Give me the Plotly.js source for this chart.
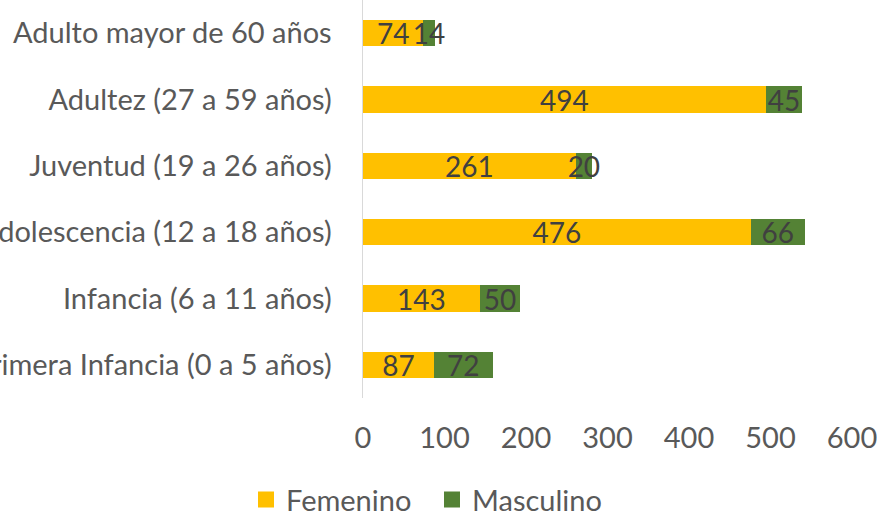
<!DOCTYPE html>
<html>
<head>
<meta charset="utf-8">
<script src="https://cdn.plot.ly/plotly-3.0.1.min.js"></script>
<style>html,body{margin:0;padding:0;background:#fff;}#chart{width:877px;height:511px;}</style>
</head>
<body>
<div id="chart"></div>
<script>
const categories = [
  "Primera Infancia (0 a 5 años)",
  "Infancia (6 a 11 años)",
  "Adolescencia (12 a 18 años)",
  "Juventud (19 a 26 años)",
  "Adultez (27 a 59 años)",
  "Adulto mayor de 60 años"
];
const femenino = [87, 143, 476, 261, 494, 74];
const masculino = [72, 50, 66, 20, 45, 14];
const xTicks = [0, 100, 200, 300, 400, 500, 600];
const seriesNames = ["Femenino", "Masculino"];
const seriesColors = ["#FFC000", "#548235"];

const FONT = "Lato, 'Open Sans', sans-serif";
const labelFont = {family: FONT, size: 28, color: "#404040"};
const tickFont = {family: FONT, size: 29, color: "#595959"};

const seriesValues = [femenino, masculino];
const traces = seriesValues.map((vals, i) => ({
  type: "bar", orientation: "h", name: seriesNames[i],
  y: categories, x: vals,
  marker: {color: seriesColors[i]},
  text: vals.map(String), textposition: "inside", insidetextanchor: "middle",
  textangle: 0, constraintext: "none", textfont: labelFont, cliponaxis: false,
  hoverinfo: "none", showlegend: false
}));
// legend entries with larger square swatches
seriesNames.forEach((n, i) => traces.push({
  type: "scatter", mode: "markers", name: n, x: [null], y: [null],
  marker: {symbol: "square", size: 17, color: seriesColors[i]},
  showlegend: true, hoverinfo: "none"
}));

const layout = {
  width: 877, height: 511,
  paper_bgcolor: "#ffffff", plot_bgcolor: "#ffffff",
  barmode: "stack", bargap: 0.6,
  margin: {l: 363, r: 25, t: 0, b: 113, pad: 0},
  font: {family: FONT, size: 29, color: "#595959"},
  showlegend: true,
  legend: {
    orientation: "h", xref: "container", yref: "container",
    x: 246 / 877, xanchor: "left", y: 0.022, yanchor: "middle",
    entrywidth: 141, entrywidthmode: "pixels",
    font: {family: FONT, size: 29, color: "#595959"},
    traceorder: "normal", itemsizing: "trace"
  },
  xaxis: {
    range: [0, 600], tickmode: "array", tickvals: xTicks, ticktext: xTicks.map(String),
    showgrid: false, zeroline: false, showline: false, ticks: "",
    ticklabelstandoff: 20, ticklabeloverflow: "allow",
    tickfont: tickFont, fixedrange: true
  },
  yaxis: {
    type: "category", categoryorder: "array", categoryarray: categories,
    range: [-0.5, 5.5], automargin: false,
    showgrid: false, zeroline: false, showline: true, linecolor: "#D9D9D9", linewidth: 1.5,
    ticks: "", ticklabelstandoff: 24, ticklabeloverflow: "allow",
    tickfont: tickFont, fixedrange: true
  }
};

Plotly.newPlot("chart", traces, layout, {staticPlot: true, displayModeBar: false});
</script>
</body>
</html>
